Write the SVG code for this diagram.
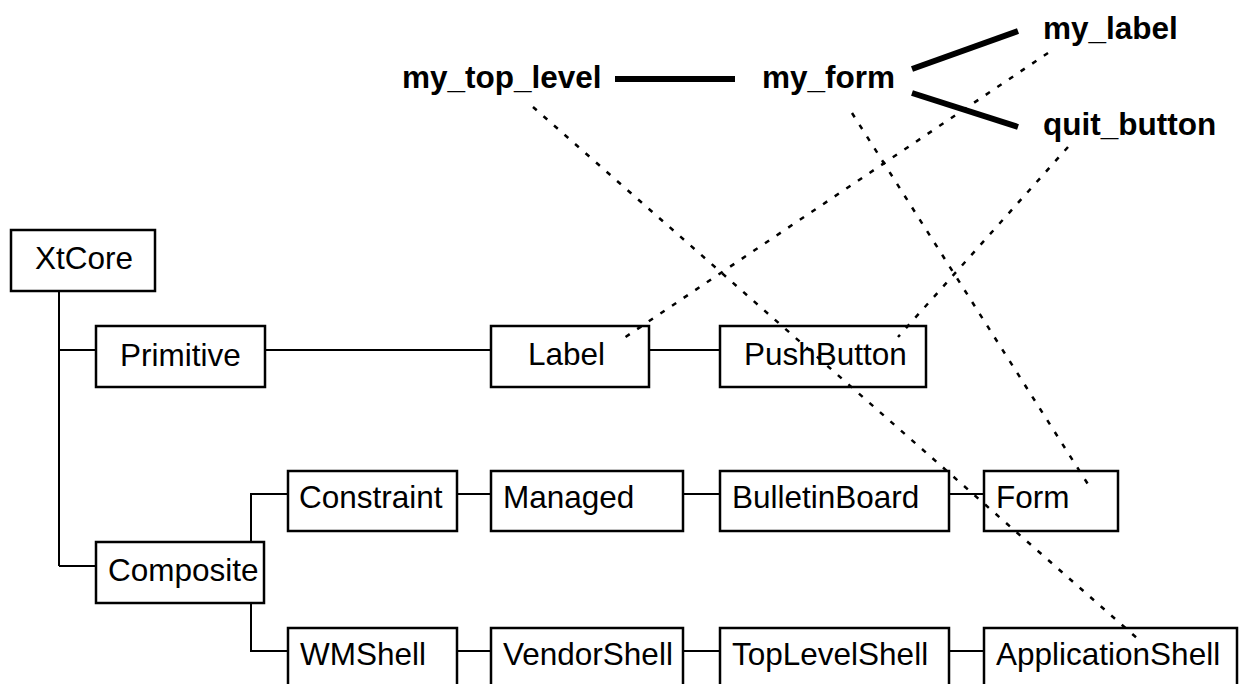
<svg xmlns="http://www.w3.org/2000/svg" width="1241" height="684" viewBox="0 0 1241 684">
  <style>
    .box { fill: #ffffff; stroke: #000000; stroke-width: 2.5; }
    .lbl { font-family: "Liberation Sans", Arial, Helvetica, sans-serif; font-size: 31.5px; fill: #000000; }
    .inst { font-family: "Liberation Sans", Arial, Helvetica, sans-serif; font-size: 31.5px; font-weight: bold; fill: #000000; }
    .tree { stroke: #000000; stroke-width: 2; fill: none; }
    .own { stroke: #000000; stroke-width: 6; fill: none; }
    .map { stroke: #000000; stroke-width: 2.5; fill: none; stroke-dasharray: 5 9; }
  </style>

  <!-- class hierarchy connectors -->
  <g id="class-tree">
    <path class="tree" d="M59 291 V566 M59 350 H96 M59 566 H96"/>
    <path class="tree" d="M265 350 H491 M649 350 H720"/>
    <path class="tree" d="M251 542 V494 H288 M251 603 V651 H288"/>
    <path class="tree" d="M457 494 H491 M683 494 H720 M949 494 H984"/>
    <path class="tree" d="M457 651 H491 M683 651 H720 M949 651 H984"/>
  </g>

  <!-- widget classes -->
  <g id="XtCore"><rect class="box" x="11" y="230" width="144" height="61"/><text class="lbl" x="35" y="269">XtCore</text></g>
  <g id="Primitive"><rect class="box" x="96" y="326" width="169" height="61"/><text class="lbl" x="120" y="366">Primitive</text></g>
  <g id="Label"><rect class="box" x="491" y="326" width="158" height="61"/><text class="lbl" x="528" y="365">Label</text></g>
  <g id="PushButton"><rect class="box" x="720" y="326" width="206" height="61"/><text class="lbl" x="744" y="365">PushButton</text></g>
  <g id="Composite"><rect class="box" x="96" y="542" width="168" height="61"/><text class="lbl" x="108" y="581">Composite</text></g>
  <g id="Constraint"><rect class="box" x="288" y="471" width="169" height="60"/><text class="lbl" x="299" y="508">Constraint</text></g>
  <g id="Managed"><rect class="box" x="491" y="471" width="192" height="60"/><text class="lbl" x="503" y="508">Managed</text></g>
  <g id="BulletinBoard"><rect class="box" x="720" y="471" width="229" height="60"/><text class="lbl" x="732" y="508">BulletinBoard</text></g>
  <g id="Form"><rect class="box" x="984" y="471" width="134" height="60"/><text class="lbl" x="996" y="508">Form</text></g>
  <g id="WMShell"><rect class="box" x="288" y="628" width="169" height="80"/><text class="lbl" x="300" y="665">WMShell</text></g>
  <g id="VendorShell"><rect class="box" x="491" y="628" width="192" height="80"/><text class="lbl" x="503" y="665">VendorShell</text></g>
  <g id="TopLevelShell"><rect class="box" x="720" y="628" width="229" height="80"/><text class="lbl" x="732" y="665">TopLevelShell</text></g>
  <g id="ApplicationShell"><rect class="box" x="984" y="628" width="253" height="80"/><text class="lbl" x="996" y="665">ApplicationShell</text></g>

  <!-- widget instances -->
  <g id="my_top_level"><text class="inst" x="402" y="88">my_top_level</text></g>
  <g id="my_form"><text class="inst" x="762" y="88">my_form</text></g>
  <g id="my_label"><text class="inst" x="1043" y="39">my_label</text></g>
  <g id="quit_button"><text class="inst" x="1043" y="135">quit_button</text></g>

  <!-- instance tree and instance-to-class links -->
  <g id="connectors">
    <path class="own" d="M615 79 H735"/>
    <path class="own" d="M912 69 L1018 31"/>
    <path class="own" d="M912 93 L1018 127"/>
    <path class="map" d="M533 107 L1138 639"/>
    <path class="map" d="M852 113 L1091 489"/>
    <path class="map" d="M1048 53 L624 338"/>
    <path class="map" d="M1068 147 L898 337"/>
  </g>
</svg>
